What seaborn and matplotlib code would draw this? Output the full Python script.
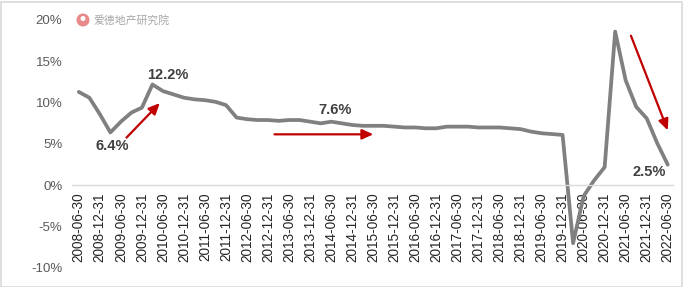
import matplotlib
matplotlib.use("Agg")
import matplotlib.pyplot as plt
from matplotlib.patches import Ellipse, Rectangle
import seaborn as sns
import pandas as pd

# ---------------- data ----------------
quarters = [
    "2008-06-30", "2008-09-30", "2008-12-31", "2009-03-31", "2009-06-30", "2009-09-30",
    "2009-12-31", "2010-03-31", "2010-06-30", "2010-09-30", "2010-12-31", "2011-03-31",
    "2011-06-30", "2011-09-30", "2011-12-31", "2012-03-31", "2012-06-30", "2012-09-30",
    "2012-12-31", "2013-03-31", "2013-06-30", "2013-09-30", "2013-12-31", "2014-03-31",
    "2014-06-30", "2014-09-30", "2014-12-31", "2015-03-31", "2015-06-30", "2015-09-30",
    "2015-12-31", "2016-03-31", "2016-06-30", "2016-09-30", "2016-12-31", "2017-03-31",
    "2017-06-30", "2017-09-30", "2017-12-31", "2018-03-31", "2018-06-30", "2018-09-30",
    "2018-12-31", "2019-03-31", "2019-06-30", "2019-09-30", "2019-12-31", "2020-03-31",
    "2020-06-30", "2020-09-30", "2020-12-31", "2021-03-31", "2021-06-30", "2021-09-30",
    "2021-12-31", "2022-03-31", "2022-06-30",
]
growth = [
    11.3, 10.6, 8.6, 6.4, 7.7, 8.8,
    9.4, 12.2, 11.4, 11.0, 10.6, 10.4,
    10.3, 10.1, 9.7, 8.2, 8.0, 7.9,
    7.9, 7.8, 7.9, 7.9, 7.7, 7.5,
    7.7, 7.5, 7.3, 7.2, 7.2, 7.2,
    7.1, 7.0, 7.0, 6.9, 6.9, 7.1,
    7.1, 7.1, 7.0, 7.0, 7.0, 6.9,
    6.8, 6.5, 6.3, 6.2, 6.1, -7.0,
    -1.3, 0.6, 2.2, 18.6, 12.7, 9.5,
    8.1, 5.1, 2.5,
]
tick_labels = quarters[::2]
yticks = [-10, -5, 0, 5, 10, 15, 20]
annotations = ["6.4%", "12.2%", "7.6%", "2.5%"]

df = pd.DataFrame({"idx": range(len(quarters)), "date": quarters, "value": growth})

# ---------------- figure ----------------
sns.set_theme(style="white")
plt.rcParams["font.family"] = ["Liberation Sans", "Noto Sans CJK SC", "DejaVu Sans"]

W, H = 683, 287
fig = plt.figure(figsize=(W / 100, H / 100), dpi=100)
ax = fig.add_axes([72 / W, 1 - 268 / H, (673 - 72) / W, (268 - 20) / H])

sns.lineplot(data=df, x="idx", y="value", ax=ax, color="#808080", linewidth=2.7,
             solid_joinstyle="round", solid_capstyle="round")

for s in ["top", "right", "left"]:
    ax.spines[s].set_visible(False)
ax.spines["bottom"].set_position(("data", 0))
ax.spines["bottom"].set_color("#D9D9D9")
ax.spines["bottom"].set_linewidth(1.0)

ax.set_xlim(-0.65, 56.5)
ax.set_ylim(-10, 20)
ax.set_yticks(yticks)
ax.set_yticklabels([f"{v}%" for v in yticks], color="#595959", fontsize=9.5)
ax.set_xticks(range(0, len(quarters), 2))
ax.set_xticklabels(tick_labels, color="#262626", fontsize=9.8)
ax.tick_params(axis="x", length=0, pad=5, labelrotation=90)
ax.tick_params(axis="y", length=0, pad=7)
ax.set_xlabel("")
ax.set_ylabel("")

# annotations
txt_kw = dict(fontsize=10.5, fontweight="bold", color="#404040", ha="center", va="center")
ax.text(3.14, 4.7, annotations[0], **txt_kw)
ax.text(8.46, 13.4, annotations[1], **txt_kw)
ax.text(24.4, 9.1, annotations[2], **txt_kw)
ax.text(54.2, 1.6, annotations[3], **txt_kw)

arrow_kw = dict(arrowstyle="-|>,head_length=0.55,head_width=0.25", color="#C00000", lw=1.6,
                shrinkA=0, shrinkB=0)
ax.annotate("", xy=(7.7, 9.95), xytext=(4.53, 5.77), arrowprops=arrow_kw)
ax.annotate("", xy=(28.0, 6.17), xytext=(18.6, 6.17), arrowprops=arrow_kw)
ax.annotate("", xy=(56.0, 6.65), xytext=(52.5, 18.1), arrowprops=arrow_kw)

# watermark logo + text
fig.patches.append(Ellipse((83 / W, 1 - 20 / H), 13 / W, 13 / H, transform=fig.transFigure,
                           facecolor="#E98A8A", edgecolor="none", zorder=5))
fig.patches.append(Ellipse((83 / W, 1 - 18.5 / H), 5 / W, 5 / H, transform=fig.transFigure,
                           facecolor="white", edgecolor="none", zorder=6))
fig.text(94 / W, 1 - 20 / H, "爱德地产研究院", fontsize=7.8, color="#A6A6A6", va="center",
         ha="left", family=["Noto Sans CJK SC", "DejaVu Sans"])

# outer border
fig.patches.append(Rectangle((0.5 / W, 0.5 / H), (W - 2) / W, (H - 2) / H, transform=fig.transFigure,
                             facecolor="none", edgecolor="#D9D9D9", linewidth=1.2))

fig.savefig("out.png", dpi=100)
